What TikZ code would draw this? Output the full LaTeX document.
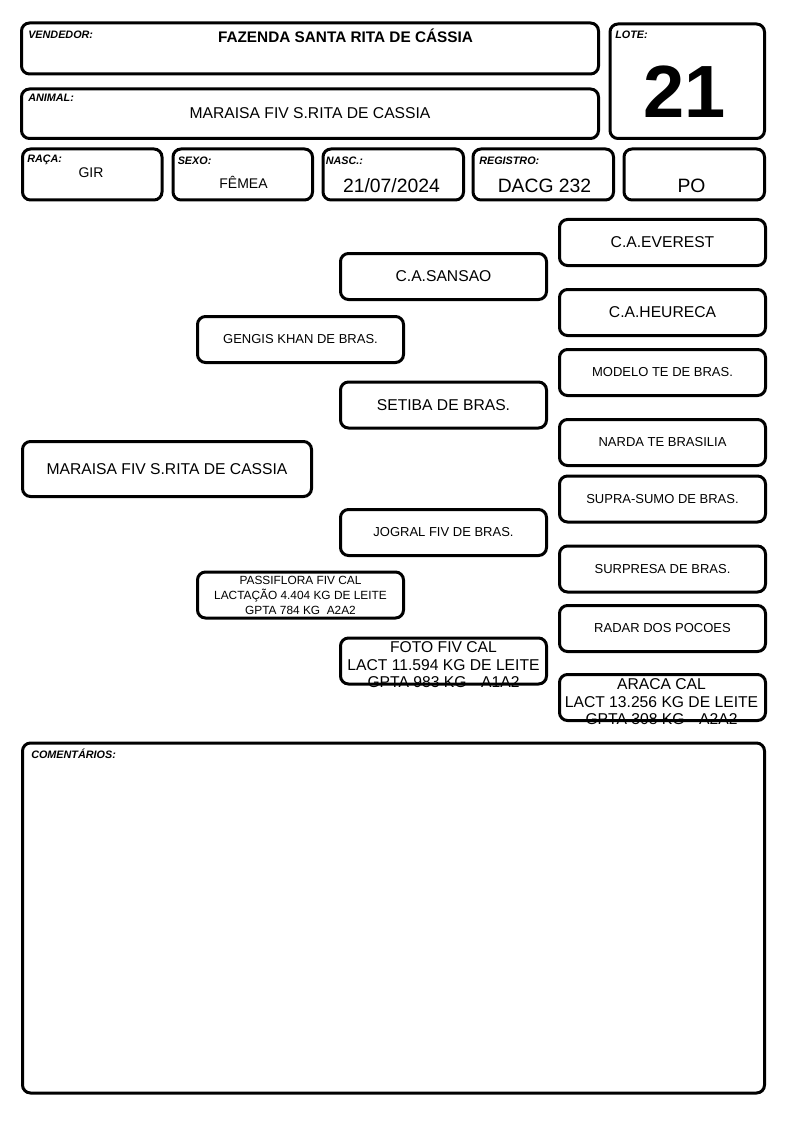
\documentclass[tikz,border=0pt]{standalone}
\usepackage{fontspec}
\setmainfont{Liberation Sans}
\usetikzlibrary{positioning, fit}
\tikzset{x=0.75pt, y=-0.75pt, % one unit is one pixel of the sheet
    box/.style={draw, line width=2.25pt, rounded corners=6pt, inner sep=0pt},
    ped/.style={box, minimum width=154.5pt, minimum height=34.5pt, align=center},
    tag/.style={anchor=base west, inner sep=0pt, font=\bfseries\itshape\fontsize{8.1}{9}\selectfont},
    val/.style={anchor=base, inner sep=0pt},
    big/.style={font=\fontsize{11.75}{13.1}\selectfont},
    small/.style={font=\fontsize{9.75}{11}\selectfont},
    tiny/.style={font=\fontsize{8.9}{11.25}\selectfont}}
\begin{document}
\begin{tikzpicture}
    \useasboundingbox (0,0) rectangle (794,1123);

    % Header
    \node[box, fit={(21.5,23) (598.5,74)}] (vendedor) {};
    \node[tag] (vendedor-tag) at (28,39) {VENDEDOR:};
    \node[val, font=\bfseries\fontsize{11.5}{13}\selectfont] (vendedor-val) at (345.5,43) {FAZENDA SANTA RITA DE CÁSSIA};

    \node[box, fit={(21.5,89) (598.5,138.5)}] (animal-hdr) {};
    \node[tag] (animal-tag) at (28,102) {ANIMAL:};
    \node[val, big] (animal-val) at (310,119) {MARAISA FIV S.RITA DE CASSIA};

    \node[box, fit={(610,24) (764.5,138.5)}] (lote) {};
    \node[tag] (lote-tag) at (615,38.5) {LOTE:};
    \node[val, font=\bfseries\fontsize{55.5}{60}\selectfont] (lote-val) at (684.5,118) {21};

    \node[box, fit={(22.5,149) (162,200)}] (raca) {};
    \node[tag] (raca-tag) at (27,163) {RAÇA:};
    \node[val, font=\fontsize{10.5}{12}\selectfont] (raca-val) at (91,178) {GIR};

    \node[box, fit={(173,149) (312.5,200)}] (sexo) {};
    \node[tag] (sexo-tag) at (177.5,165) {SEXO:};
    \node[val, font=\fontsize{10.5}{12}\selectfont] (sexo-val) at (243.5,189) {FÊMEA};

    \node[box, fit={(323,149) (463.5,200)}] (nasc) {};
    \node[tag] (nasc-tag) at (325.5,165) {NASC.:};
    \node[val, font=\fontsize{14.5}{16}\selectfont] (nasc-val) at (391.5,193) {21/07/2024};

    \node[box, fit={(473,149) (613.5,200)}] (registro) {};
    \node[tag] (registro-tag) at (479,165) {REGISTRO:};
    \node[val, font=\fontsize{14.5}{16}\selectfont] (registro-val) at (544.5,193) {DACG 232};

    \node[box, fit={(624,149) (764.5,200)}] (categoria) {};
    \node[val, font=\fontsize{14.5}{16}\selectfont] (categoria-val) at (691.5,193) {PO};

    % Pedigree
    \node[box, big, minimum width=216.75pt, minimum height=41.25pt] (animal) at (167,469) {MARAISA FIV S.RITA DE CASSIA};

    \node[ped, small] (pai) at (300.5,339.5) {GENGIS KHAN DE BRAS.};
    \node[ped, tiny] (mae) at (300.5,595) {PASSIFLORA FIV CAL\\LACTAÇÃO 4.404 KG DE LEITE\\GPTA 784 KG\ \ A2A2};

    \node[ped, big] (avo-pp) at (443.5,276.5) {C.A.SANSAO};
    \node[ped, big] (avo-pm) at (443.5,405) {SETIBA DE BRAS.};
    \node[ped, small] (avo-mp) at (443.5,532.5) {JOGRAL FIV DE BRAS.};
    \node[ped] (avo-mm) at (443.5,661) {};
    \node[big, align=center, inner sep=0pt] (avo-mm-txt) at (443.5,665) {FOTO FIV CAL\\LACT 11.594 KG DE LEITE\\GPTA 983 KG\hspace{11pt}A1A2};

    \node[ped, big] (bis-1) at (662.5,242.5) {C.A.EVEREST};
    \node[ped, big] (bis-2) at (662.5,312.5) {C.A.HEURECA};
    \node[ped, small] (bis-3) at (662.5,372.5) {MODELO TE DE BRAS.};
    \node[ped, small] (bis-4) at (662.5,442.5) {NARDA TE BRASILIA};
    \node[ped, small] (bis-5) at (662.5,499) {SUPRA-SUMO DE BRAS.};
    \node[ped, small] (bis-6) at (662.5,569) {SURPRESA DE BRAS.};
    \node[ped, small] (bis-7) at (662.5,628.5) {RADAR DOS POCOES};
    \node[ped] (bis-8) at (662.5,697.5) {};
    \node[big, align=center, inner sep=0pt] (bis-8-txt) at (661.5,702) {ARACA CAL\\LACT 13.256 KG DE LEITE\\GPTA 308 KG\hspace{11pt}A2A2};

    % Comments
    \node[box, fit={(22.5,743) (764.5,1093)}] (comentarios) {};
    \node[tag] (comentarios-tag) at (31,758) {COMENTÁRIOS:};
\end{tikzpicture}
\end{document}
